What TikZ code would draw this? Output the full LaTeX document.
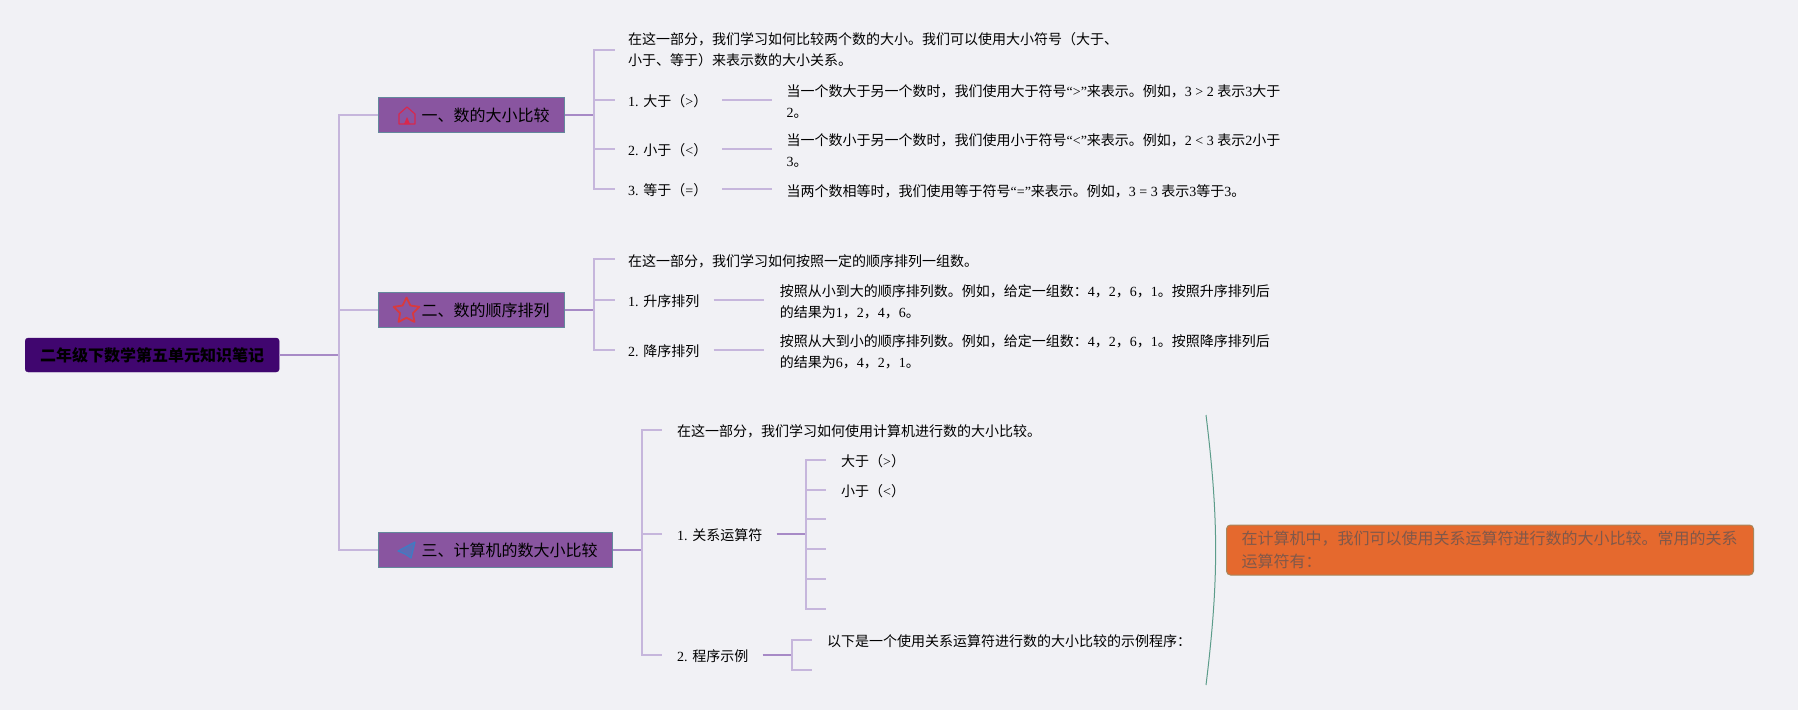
\documentclass[tikz,border=0pt]{standalone}
\usepackage{fontspec}
\setmainfont{Noto Sans CJK SC}
\newfontfamily\lat{Liberation Serif}
\usetikzlibrary{positioning,calc,shapes.geometric}
\definecolor{paper}{HTML}{F1F1F5}
\definecolor{rootfill}{HTML}{40066F}
\definecolor{secfill}{HTML}{8955A0}
\definecolor{secedge}{HTML}{64889C}
\definecolor{lightline}{HTML}{C6B6DC}
\definecolor{darkline}{HTML}{A78AC6}
\definecolor{notefill}{HTML}{E5692E}
\definecolor{noteedge}{HTML}{A8875C}
\definecolor{notetext}{HTML}{80584A}
\definecolor{curveline}{HTML}{5C9C8A}
\definecolor{houseicon}{HTML}{D8284E}
\definecolor{staricon}{HTML}{D83A3E}
\definecolor{planeicon}{HTML}{3E7CC4}
\begin{document}
\begin{tikzpicture}[
            x=1pt, y=-1pt,
            node distance=16pt and 16pt,
            rootbox/.style={draw=rootfill, fill=rootfill, rounded corners=3pt, anchor=west, align=center, minimum width=254pt, minimum height=34pt, inner sep=0pt, font=\fontsize{16}{20}\selectfont\bfseries, text=black},
            secbox/.style={draw=secedge, fill=secfill, line width=1pt, anchor=west, align=right, minimum height=35pt, inner xsep=15pt, inner ysep=0pt, font=\fontsize{16}{20}\selectfont, text=black},
            notebox/.style={draw=noteedge, fill=notefill, line width=1pt, rounded corners=4pt, anchor=west, align=left, minimum height=50pt, inner xsep=15pt, inner ysep=0pt, font=\fontsize{16}{23}\selectfont, text=notetext},
            txt/.style={anchor=west, align=left, inner sep=0pt, font=\fontsize{14}{21}\selectfont, text=black},
            thinline/.style={draw=lightline, line width=1.3pt},
            thickline/.style={draw=darkline, line width=2pt}
        ]
        \fill[paper] (0,0) rectangle (1798,710);
        \useasboundingbox (0,0) rectangle (1798,710);

        \node[rootbox] (root) at (25,355) {二年级下数学第五单元知识笔记};
        \node[secbox, text width=156pt] (secA) at (378,115) {一、数的大小比较};
        \node[secbox, text width=156pt] (secB) at (378,310) {二、数的顺序排列};
        \node[secbox, text width=204pt] (secC) at (378,550) {三、计算机的数大小比较};

        \coordinate (trunk) at (339,355);
        \draw[thickline] (root.east) -- (trunk);
        \draw[thinline] (trunk) |- (secA.west);
        \draw[thinline] (trunk) |- (secB.west);
        \draw[thinline] (trunk) |- (secC.west);

        % first branch
        \coordinate (forkA) at (594,115);
        \node[txt] (textA) at (628,50) {在这一部分，我们学习如何比较两个数的大小。我们可以使用大小符号（大于、\\小于、等于）来表示数的大小关系。};
        \node[txt] (itemA1) at (628,101) {{\lat 1. }大于（{\lat >}）};
        \node[txt] (itemA2) at (628,150) {{\lat 2. }小于（{\lat <}）};
        \node[txt] (itemA3) at (628,190) {{\lat 3. }等于（{\lat =}）};
        \node[txt, right=79pt of itemA1, yshift=-1pt] (detA1) {当一个数大于另一个数时，我们使用大于符号{\lat “>”}来表示。例如，{\lat 3 > 2 }表示{\lat 3}大于\\{\lat 2}。};
        \node[txt, right=79pt of itemA2, yshift=-1pt] (detA2) {当一个数小于另一个数时，我们使用小于符号{\lat “<”}来表示。例如，{\lat 2 < 3 }表示{\lat 2}小于\\{\lat 3}。};
        \node[txt, right=79pt of itemA3, yshift=-1pt] (detA3) {当两个数相等时，我们使用等于符号{\lat “=”}来表示。例如，{\lat 3 = 3 }表示{\lat 3}等于{\lat 3}。};

        \draw[thickline] (secA.east) -- (forkA);
        \draw[thinline] (forkA) |- ([xshift=-13pt]textA.west);
        \draw[thinline] (forkA) |- ([xshift=-13pt,yshift=1pt]itemA1.west);
        \draw[thinline] (forkA) |- ([xshift=-13pt,yshift=1pt]itemA2.west);
        \draw[thinline] (forkA) |- ([xshift=-13pt,yshift=1pt]itemA3.west);
        \draw[thinline] ([xshift=15pt,yshift=1pt]itemA1.east) -- ([xshift=-14pt,yshift=2pt]detA1.west);
        \draw[thinline] ([xshift=15pt,yshift=1pt]itemA2.east) -- ([xshift=-14pt,yshift=2pt]detA2.west);
        \draw[thinline] ([xshift=15pt,yshift=1pt]itemA3.east) -- ([xshift=-14pt,yshift=2pt]detA3.west);

        % second branch
        \coordinate (forkB) at (594,310);
        \node[txt] (textB) at (628,261) {在这一部分，我们学习如何按照一定的顺序排列一组数。};
        \node[txt] (itemB1) at (628,301) {{\lat 1. }升序排列};
        \node[txt] (itemB2) at (628,351) {{\lat 2. }降序排列};
        \node[txt, right=80pt of itemB1, yshift=-1pt] (detB1) {按照从小到大的顺序排列数。例如，给定一组数：{\lat 4}，{\lat 2}，{\lat 6}，{\lat 1}。按照升序排列后\\的结果为{\lat 1}，{\lat 2}，{\lat 4}，{\lat 6}。};
        \node[txt, right=80pt of itemB2, yshift=-1pt] (detB2) {按照从大到小的顺序排列数。例如，给定一组数：{\lat 4}，{\lat 2}，{\lat 6}，{\lat 1}。按照降序排列后\\的结果为{\lat 6}，{\lat 4}，{\lat 2}，{\lat 1}。};

        \draw[thickline] (secB.east) -- (forkB);
        \draw[thinline] (forkB) |- ([xshift=-13pt,yshift=2pt]textB.west);
        \draw[thinline] (forkB) |- ([xshift=-13pt,yshift=1pt]itemB1.west);
        \draw[thinline] (forkB) |- ([xshift=-13pt,yshift=1pt]itemB2.west);
        \draw[thinline] ([xshift=14pt,yshift=1pt]itemB1.east) -- ([xshift=-16pt,yshift=2pt]detB1.west);
        \draw[thinline] ([xshift=14pt,yshift=1pt]itemB2.east) -- ([xshift=-16pt,yshift=2pt]detB2.west);

        % third branch
        \coordinate (forkC) at (642,550);
        \node[txt] (textC) at (677,431) {在这一部分，我们学习如何使用计算机进行数的大小比较。};
        \node[txt] (itemC1) at (677,535) {{\lat 1. }关系运算符};
        \node[txt] (itemC2) at (677,656) {{\lat 2. }程序示例};
        \draw[thickline] (secC.east) -- (forkC);
        \draw[thinline] (forkC) |- ([xshift=-15pt,yshift=1pt]textC.west);
        \draw[thinline] (forkC) |- ([xshift=-15pt,yshift=1pt]itemC1.west);
        \draw[thinline] (forkC) |- ([xshift=-15pt,yshift=1pt]itemC2.west);

        \coordinate (forkD) at (806,534);
        \node[txt] (opGt) at (841,461) {大于（{\lat >}）};
        \node[txt] (opLt) at (841,491) {小于（{\lat <}）};
        \coordinate (opC) at (826,519);
        \coordinate (opD) at (826,549);
        \coordinate (opE) at (826,579);
        \coordinate (opF) at (826,609);
        \draw[thickline] ([xshift=14pt,yshift=1pt]itemC1.east) -- (forkD);
        \draw[thinline] (forkD) |- ([xshift=-15pt,yshift=1pt]opGt.west);
        \draw[thinline] (forkD) |- ([xshift=-15pt,yshift=1pt]opLt.west);
        \draw[thinline] (forkD) |- (opC);
        \draw[thinline] (forkD) |- (opD);
        \draw[thinline] (forkD) |- (opE);
        \draw[thinline] (forkD) |- (opF);

        \coordinate (forkE) at (792,655);
        \node[txt] (demoA) at (827,641) {以下是一个使用关系运算符进行数的大小比较的示例程序：};
        \coordinate (demoB) at (812,670);
        \draw[thickline] ([xshift=14pt,yshift=1pt]itemC2.east) -- (forkE);
        \draw[thinline] (forkE) |- ([xshift=-15pt,yshift=1pt]demoA.west);
        \draw[thinline] (forkE) |- (demoB);

        % curve and note
        \coordinate (curveTop) at (1206,415);
        \coordinate (curveBot) at (1206,685);
        \draw[curveline, line width=1pt] (curveTop) to[bend left=7] (curveBot);
        \node[notebox, text width=497pt] (note) at (1226,550) {在计算机中，我们可以使用关系运算符进行数的大小比较。常用的关系\\运算符有：};

        % icons
        \draw[houseicon, line width=1.2pt, line join=round] (399,124) -- (399,114) -- (407,107) -- (415,114) -- (415,124) -- cycle;
        \fill[houseicon] (404,124) -- (407,117) -- (410,124) -- cycle;
        \node[star, star points=5, star point ratio=2, draw=staricon, line width=1.8pt, line join=round, minimum size=27pt, inner sep=0pt] (iconB) at (406.5,311) {};
        \draw[planeicon, fill=planeicon, fill opacity=0.6, line width=1.2pt, line join=round] (415,542) -- (398,551) -- (405,554) -- (411,558) -- cycle;
    \end{tikzpicture}
\end{document}
